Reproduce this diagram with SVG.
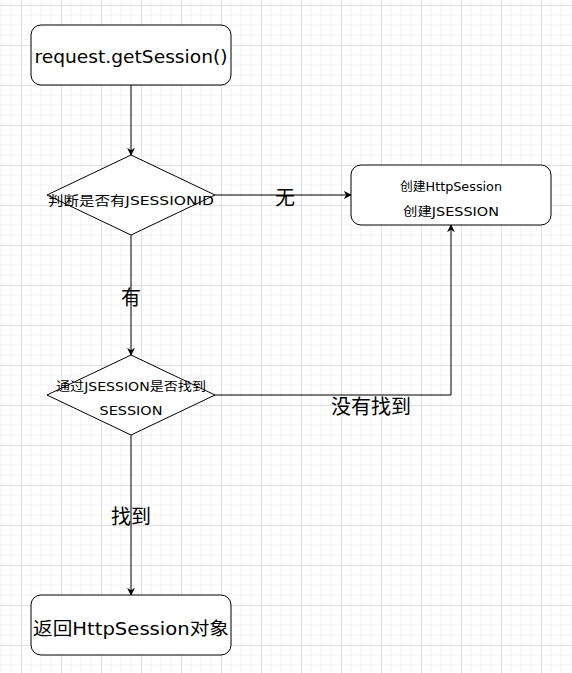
<svg xmlns="http://www.w3.org/2000/svg" width="572" height="673" viewBox="0 0 572 673">
<defs>
<pattern id="grid" x="21" y="5" width="40" height="40" patternUnits="userSpaceOnUse">
<path d="M10 0V40M20 0V40M30 0V40M0 10H40M0 20H40M0 30H40" stroke="#f3f3f3" stroke-width="1" fill="none"/>
<path d="M0.5 0V40M0 0.5H40" stroke="#e0e0e0" stroke-width="1" fill="none"/>
</pattern>
<marker id="arr" viewBox="0 0 10 10" refX="9" refY="5" markerWidth="8" markerHeight="8" markerUnits="userSpaceOnUse" orient="auto">
<path d="M0 0L10 5L0 10L3 5Z" fill="#000"/>
</marker>
</defs>
<style>
.shape{fill:#fff;stroke:#000;stroke-width:1}
.edge{fill:none;stroke:#000;stroke-width:1;marker-end:url(#arr)}
text{font-family:"DejaVu Sans","Noto Sans CJK SC",sans-serif;fill:#000;text-anchor:middle;dominant-baseline:central}
.big{font-size:18px}
.lbl{font-size:20px}
.mid{font-size:13px}
.small{font-size:12px}
</style>
<rect width="572" height="673" fill="#fff"/>
<rect width="572" height="673" fill="url(#grid)"/>
<g id="connectors">
<path class="edge" d="M131 85V155"/>
<path class="edge" d="M215 195H351"/>
<path class="edge" d="M131 235V355"/>
<path class="edge" d="M215 395H451V225"/>
<path class="edge" d="M131 435V595"/>
<text class="lbl" x="285" y="198">无</text>
<text class="lbl" x="131" y="298">有</text>
<text class="lbl" x="371" y="407">没有找到</text>
<text class="lbl" x="131" y="517">找到</text>
</g>
<g id="start">
<rect class="shape" x="31" y="25" width="200" height="60" rx="10"/>
<text class="big" x="131" y="56" textLength="193" lengthAdjust="spacingAndGlyphs">request.getSession()</text>
</g>
<g id="check-id">
<path class="shape" d="M131 155L215 195L131 235L47 195Z"/>
<text class="mid" x="131" y="200" textLength="166" lengthAdjust="spacingAndGlyphs">判断是否有JSESSIONID</text>
</g>
<g id="create">
<rect class="shape" x="351" y="165" width="200" height="60" rx="10"/>
<text class="small" x="451" y="187" textLength="102" lengthAdjust="spacingAndGlyphs">创建HttpSession</text>
<text class="small" x="451" y="212" textLength="96" lengthAdjust="spacingAndGlyphs">创建JSESSION</text>
</g>
<g id="check-session">
<path class="shape" d="M131 355L215 395L131 435L47 395Z"/>
<text class="small" x="131" y="387" textLength="150" lengthAdjust="spacingAndGlyphs">通过JSESSION是否找到</text>
<text class="small" x="131" y="411" textLength="63" lengthAdjust="spacingAndGlyphs">SESSION</text>
</g>
<g id="return">
<rect class="shape" x="31" y="595" width="200" height="60" rx="10"/>
<text class="big" x="131" y="628" textLength="196" lengthAdjust="spacingAndGlyphs">返回HttpSession对象</text>
</g>
</svg>
